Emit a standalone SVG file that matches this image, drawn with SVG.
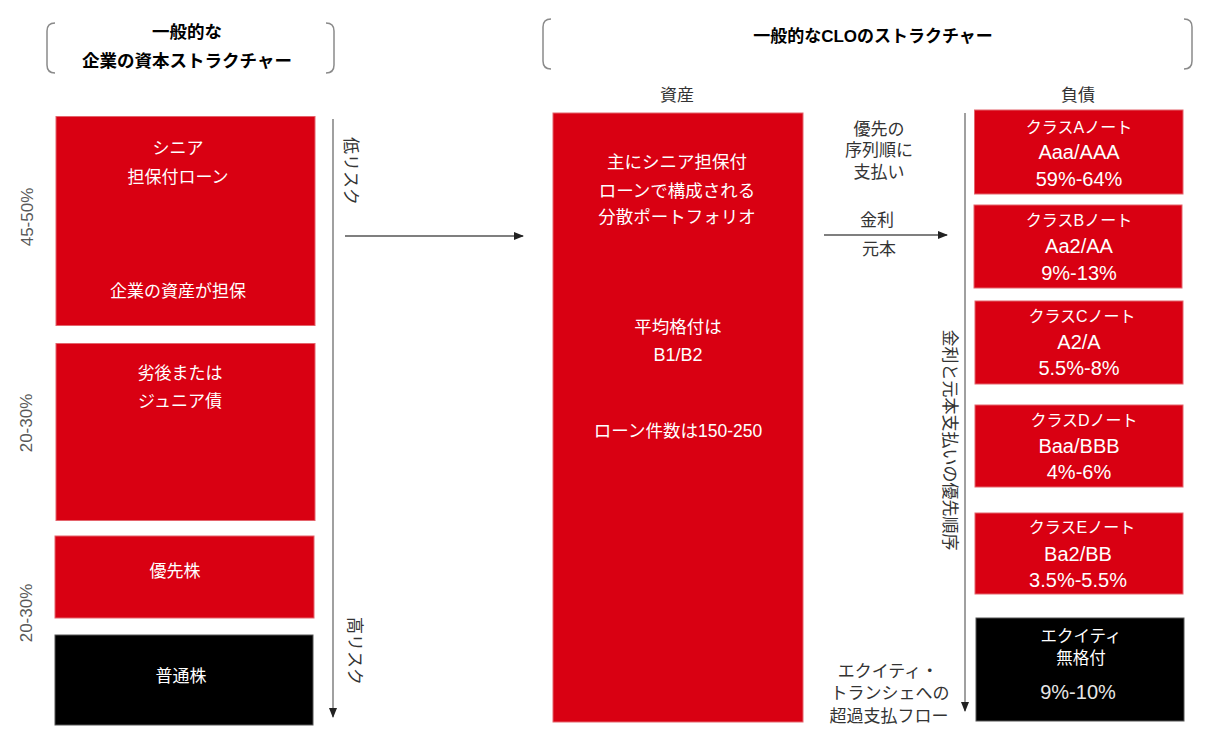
<svg xmlns="http://www.w3.org/2000/svg" width="1213" height="738" viewBox="0 0 1213 738">
<style>
text{font-family:"Liberation Sans","Noto Sans CJK JP",sans-serif;}
.w{fill:#ffffff;text-anchor:middle;}
.j{font-size:17px;}
.t{font-size:16px;}
.r{font-size:20px;}
.d{fill:#333333;text-anchor:middle;font-size:17px;}
.pct{fill:#595959;text-anchor:middle;font-size:17px;}
.h{fill:#000000;text-anchor:middle;font-size:17px;font-weight:bold;}
.red{fill:#D90012;stroke:#E4646C;stroke-width:1;}
.blk{fill:#000000;stroke:#555555;stroke-width:1;}
.br{fill:none;stroke:#8a8a8a;stroke-width:1.5;}
.vl{fill:none;stroke:#808080;stroke-width:1.5;}
.hl{fill:none;stroke:#555555;stroke-width:1.5;}
</style>
<defs>
<marker id="ah" markerWidth="10" markerHeight="10" refX="9" refY="5" orient="auto" markerUnits="userSpaceOnUse">
<path d="M0,1 L10,5 L0,9 Z" fill="#222222"/>
</marker>
</defs>

<g id="title-left">
<path class="br" d="M55,23 Q47,23 47,31 L47,65 Q47,73 55,73"/>
<path class="br" d="M326,23 Q334,23 334,31 L334,65 Q334,73 326,73"/>
<text class="h" x="187" y="38" font-size="17.5" style="font-size:17.5px">一般的な</text>
<text class="h" x="187" y="67" style="font-size:17.5px">企業の資本ストラクチャー</text>
</g>

<g id="title-clo">
<path class="br" d="M551,19 Q543,19 543,27 L543,61 Q543,69 551,69"/>
<path class="br" d="M1184,19 Q1192,19 1192,27 L1192,61 Q1192,69 1184,69"/>
<text class="h" x="873" y="42">一般的なCLOのストラクチャー</text>
</g>

<g id="labels-left">
<text class="pct" transform="translate(33,217) rotate(-90)">45-50%</text>
<text class="pct" transform="translate(32,423) rotate(-90)">20-30%</text>
<text class="pct" transform="translate(32,613) rotate(-90)">20-30%</text>
<text class="d" transform="translate(345,171) rotate(90)">低リスク</text>
<text class="d" transform="translate(349,651) rotate(90)">高リスク</text>
</g>

<g id="senior-loan">
<rect class="red" x="56" y="116.5" width="259" height="209"/>
<text class="w j" x="178" y="154">シニア</text>
<text class="w j" x="178" y="183">担保付ローン</text>
<text class="w j" x="178" y="297">企業の資産が担保</text>
</g>

<g id="junior-debt">
<rect class="red" x="56" y="343.5" width="259" height="177"/>
<text class="w j" x="180" y="379">劣後または</text>
<text class="w j" x="180" y="407">ジュニア債</text>
</g>

<g id="preferred">
<rect class="red" x="55" y="536" width="259" height="82"/>
<text class="w j" x="175" y="577">優先株</text>
</g>

<g id="common">
<rect class="blk" x="55" y="635" width="258" height="90"/>
<text class="w j" x="181" y="682">普通株</text>
</g>

<g id="assets">
<text class="d" x="677" y="101">資産</text>
<rect class="red" x="553" y="113" width="250" height="609"/>
<text class="w" font-size="17.5" x="677" y="168">主にシニア担保付</text>
<text class="w" font-size="17.5" x="677" y="197">ローンで構成される</text>
<text class="w" font-size="17.5" x="677" y="223">分散ポートフォリオ</text>
<text class="w" font-size="17.5" x="678" y="333">平均格付は</text>
<text class="w" font-size="18" x="678" y="361">B1/B2</text>
<text class="w" font-size="17.5" x="678" y="437">ローン件数は150-250</text>
</g>

<g id="payment-labels">
<text class="d" x="879" y="135">優先の</text>
<text class="d" x="879" y="156">序列順に</text>
<text class="d" x="879" y="178">支払い</text>
<text class="d" x="877" y="226">金利</text>
<text class="d" x="879" y="255">元本</text>
<text class="d" transform="translate(944,440) rotate(90)">金利と元本支払いの優先順序</text>
<text class="d" x="888" y="677">エクイティ・</text>
<text class="d" x="890" y="699">トランシェへの</text>
<text class="d" x="889" y="722">超過支払フロー</text>
</g>

<g id="liabilities-label">
<text class="d" x="1078" y="101">負債</text>
</g>

<g id="class-a">
<rect class="red" x="974.5" y="110" width="208.5" height="84"/>
<text class="w t" x="1079" y="133">クラスAノート</text>
<text class="w r" x="1079" y="159">Aaa/AAA</text>
<text class="w r" x="1079" y="186">59%-64%</text>
</g>

<g id="class-b">
<rect class="red" x="974" y="205" width="208" height="83"/>
<text class="w t" x="1079" y="226">クラスBノート</text>
<text class="w r" x="1079" y="253">Aa2/AA</text>
<text class="w r" x="1079" y="280">9%-13%</text>
</g>

<g id="class-c">
<rect class="red" x="975" y="301" width="208" height="83"/>
<text class="w t" x="1082" y="322">クラスCノート</text>
<text class="w r" x="1079" y="349">A2/A</text>
<text class="w r" x="1079" y="375">5.5%-8%</text>
</g>

<g id="class-d">
<rect class="red" x="975" y="405" width="208" height="82"/>
<text class="w t" x="1084" y="426">クラスDノート</text>
<text class="w r" x="1079" y="453">Baa/BBB</text>
<text class="w r" x="1079" y="479">4%-6%</text>
</g>

<g id="class-e">
<rect class="red" x="975" y="513" width="208" height="81"/>
<text class="w t" x="1082" y="533">クラスEノート</text>
<text class="w r" x="1078" y="561">Ba2/BB</text>
<text class="w r" x="1078" y="587">3.5%-5.5%</text>
</g>

<g id="equity">
<rect class="blk" x="976" y="618" width="208" height="103"/>
<text class="w" font-size="16.5" x="1081" y="642">エクイティ</text>
<text class="w" font-size="16.5" x="1081" y="664">無格付</text>
<text class="w r" x="1078" y="699" style="fill:#e6e6e6">9%-10%</text>
</g>

<g id="connectors">
<line class="vl" x1="333" y1="119" x2="333" y2="717" marker-end="url(#ah)"/>
<line class="hl" x1="345" y1="236" x2="523" y2="236" marker-end="url(#ah)"/>
<line class="hl" x1="824" y1="235" x2="947" y2="235" marker-end="url(#ah)"/>
<line class="vl" x1="965" y1="113" x2="965" y2="711" marker-end="url(#ah)"/>
</g>
</svg>
